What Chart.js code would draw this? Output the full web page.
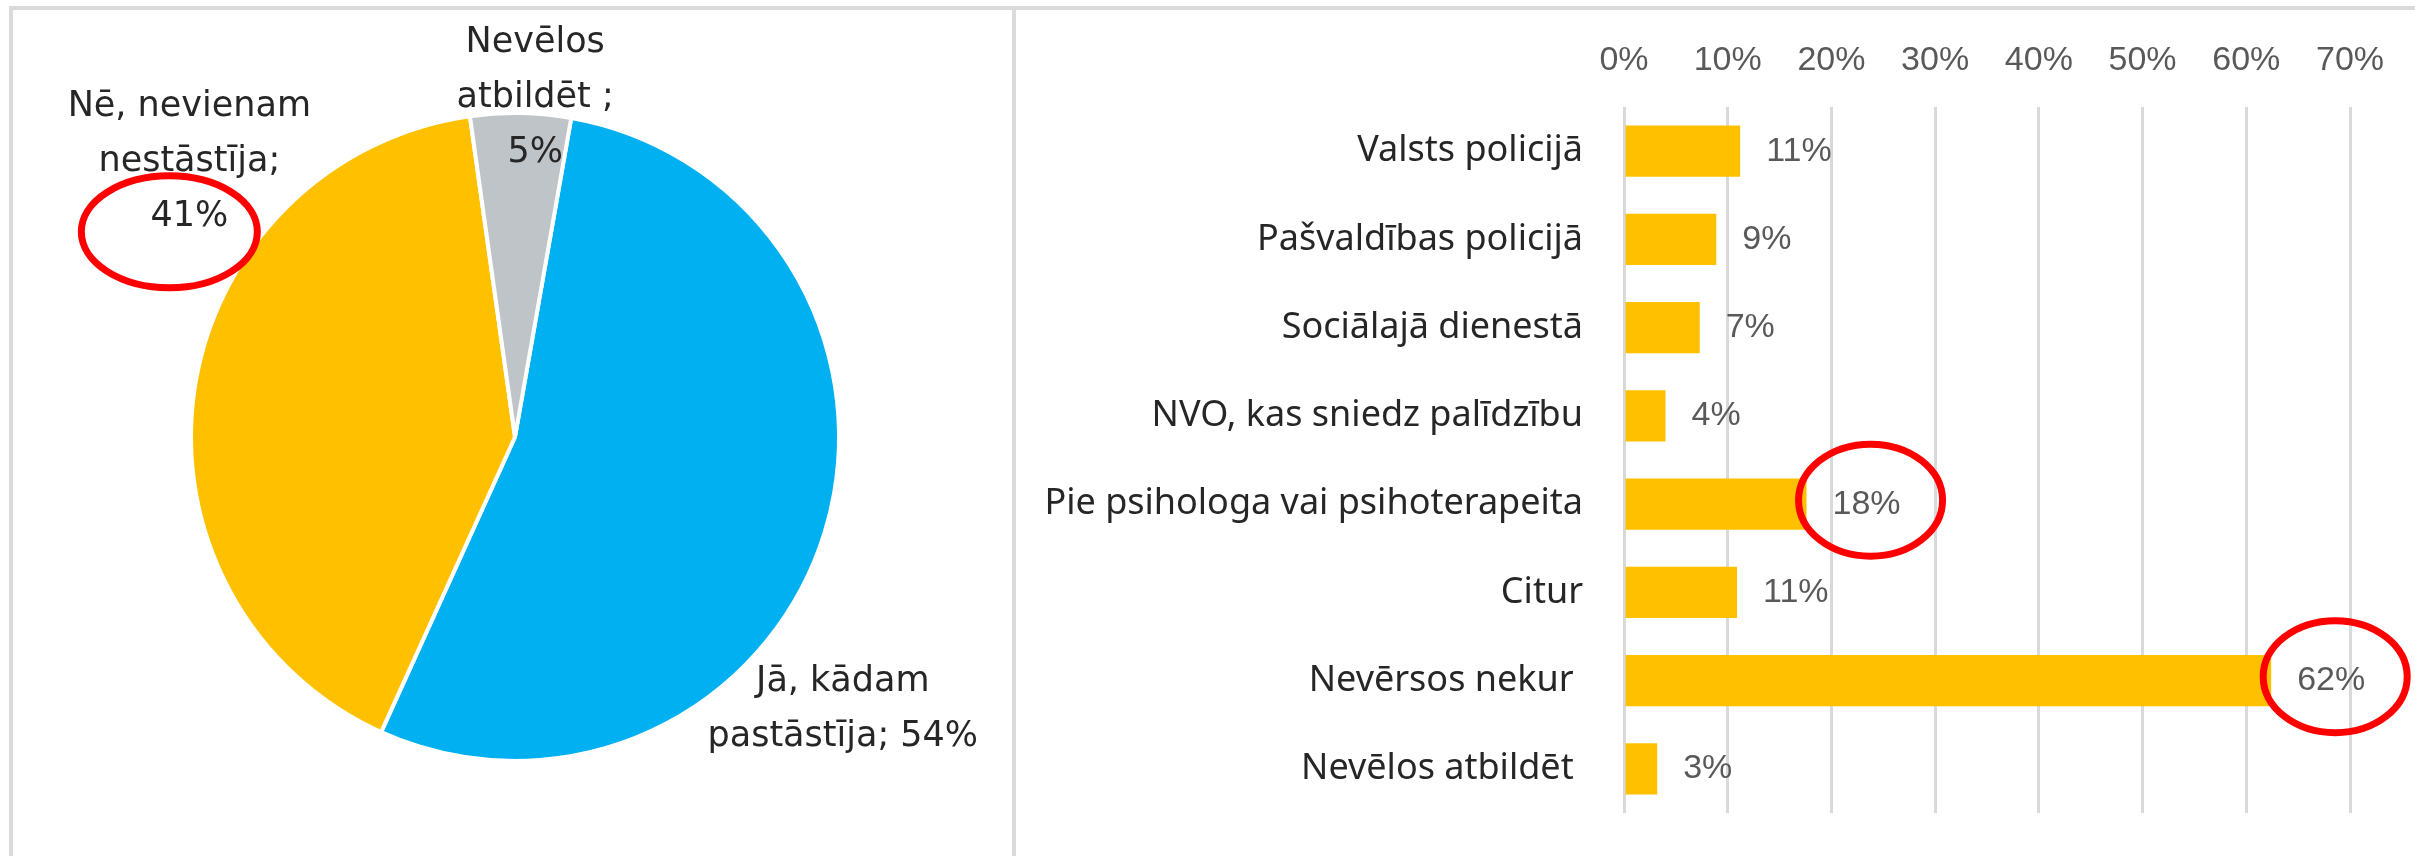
<!DOCTYPE html>
<html>
<head>
<meta charset="utf-8">
<script src="https://cdn.jsdelivr.net/npm/chart.js@4.4.1/dist/chart.umd.min.js"></script>
<style>
    html, body { margin: 0; padding: 0; background: #fff; }
    body { width: 2415px; height: 856px; position: relative; overflow: hidden; }
    .line { position: absolute; background: #dadada; }
    .box { position: absolute; }
</style>
</head>
<body>
<div class="line" style="left:9px; top:6px; width:2406px; height:4px;"></div>
<div class="line" style="left:9px; top:6px; width:4px; height:850px;"></div>
<div class="line" style="left:1012px; top:6px; width:4px; height:850px;"></div>

<div class="box" style="left:13px; top:10px;"><canvas id="pieChart" width="999" height="846"></canvas></div>
<div class="box" style="left:1016px; top:10px;"><canvas id="barChart" width="1399" height="846"></canvas></div>

<script>
// ============================================
// DATA
// ============================================

// pie: did they tell someone
const pieNames = [
    ['Jā, kādam', 'pastāstīja;'],
    ['Nē, nevienam', 'nestāstīja;'],
    ['Nevēlos', 'atbildēt ;'],
];
const pieValues = [54, 41, 5];
const pieColors = ['#00b0f0', '#ffc000', '#bfc4c8'];

// bars: where did they turn to
const barCategories = [
    'Valsts policijā',
    'Pašvaldības policijā',
    'Sociālajā dienestā',
    'NVO, kas sniedz palīdzību',
    'Pie psihologa vai psihoterapeita',
    'Citur',
    'Nevērsos nekur ',
    'Nevēlos atbildēt ',
];
const barValues = [11.2, 8.9, 7.3, 4.0, 17.6, 10.9, 62.4, 3.2];
const barTicks = [0, 10, 20, 30, 40, 50, 60, 70];

// which labels get the red circle
const pieHighlight = [1];
const barHighlight = [4, 6];

// ============================================
// LABEL PLACEMENT (pie labels sit where Excel put them)
// angle = degrees clockwise from 12 o'clock, dist = multiple of radius
// ============================================
const pieLabelSpots = [
    { angle: 129.7, dist: 1.315, valueOwnLine: false },
    { angle: 310.2, dist: 1.316, valueOwnLine: true },
    { angle: 3.4, dist: 1.048, valueOwnLine: true },
];

const RED = '#ff0000';

function drawEllipse(ctx, cx, cy, rx, ry) {
    ctx.save();
    ctx.strokeStyle = RED;
    ctx.lineWidth = 7;
    ctx.beginPath();
    ctx.ellipse(cx, cy, rx, ry, 0, 0, Math.PI * 2);
    ctx.stroke();
    ctx.restore();
}

const pieLabelPlugin = {
    id: 'pieLabels',
    afterDatasetsDraw(chart) {
        const ctx = chart.ctx;
        const meta = chart.getDatasetMeta(0);
        const lineH = 55;
        ctx.save();
        ctx.font = '35px "DejaVu Sans"';
        ctx.fillStyle = '#262626';
        ctx.textAlign = 'center';
        ctx.textBaseline = 'middle';
        meta.data.forEach((arc, i) => {
            const { x, y, outerRadius } = arc.getProps(['x', 'y', 'outerRadius'], true);
            const spot = pieLabelSpots[i];
            const a = spot.angle * Math.PI / 180;
            const cx = x + Math.sin(a) * spot.dist * outerRadius;
            const cy = y - Math.cos(a) * spot.dist * outerRadius;
            const pct = pieValues[i] + '%';
            let lines = pieNames[i].slice();
            if (spot.valueOwnLine) {
                lines.push(pct);
            } else {
                lines[lines.length - 1] += ' ' + pct;
            }
            const top = cy - (lines.length - 1) * lineH / 2;
            lines.forEach((t, k) => ctx.fillText(t, cx, top + k * lineH));
            if (pieHighlight.includes(i)) {
                const vy = top + (lines.length - 1) * lineH;
                drawEllipse(ctx, cx - 20, vy + 15, 88, 56);
            }
        });
        ctx.restore();
    },
};

const barLabelPlugin = {
    id: 'barLabels',
    afterDatasetsDraw(chart) {
        const ctx = chart.ctx;
        const meta = chart.getDatasetMeta(0);
        ctx.save();
        ctx.font = '34px "Liberation Sans"';
        ctx.fillStyle = '#595959';
        ctx.textAlign = 'left';
        ctx.textBaseline = 'middle';
        meta.data.forEach((bar, i) => {
            const txt = Math.round(barValues[i]) + '%';
            const lx = bar.x + 26;
            ctx.fillText(txt, lx, bar.y);
            if (barHighlight.includes(i)) {
                const w = ctx.measureText(txt).width;
                drawEllipse(ctx, lx + w / 2 + 4, bar.y - 4, 72, 56);
            }
        });
        ctx.restore();
    },
};

function initPie() {
    new Chart(document.getElementById('pieChart'), {
        type: 'pie',
        data: {
            labels: pieNames.map((n) => n.join(' ')),
            datasets: [
                {
                    data: pieValues,
                    backgroundColor: pieColors,
                    borderColor: '#fff',
                    borderWidth: 4,
                },
            ],
        },
        options: {
            responsive: false,
            animation: false,
            rotation: 10,
            layout: { padding: { left: 176, right: 171, top: 101, bottom: 93 } },
            plugins: {
                legend: { display: false },
                tooltip: { enabled: false },
            },
        },
        plugins: [pieLabelPlugin],
    });
}

function initBars() {
    new Chart(document.getElementById('barChart'), {
        type: 'bar',
        data: {
            labels: barCategories,
            datasets: [
                {
                    data: barValues,
                    backgroundColor: '#ffc000',
                    barPercentage: 0.58,
                    categoryPercentage: 1,
                },
            ],
        },
        options: {
            indexAxis: 'y',
            responsive: false,
            animation: false,
            layout: { padding: { left: 0, right: 65, top: 0, bottom: 43 } },
            plugins: {
                legend: { display: false },
                tooltip: { enabled: false },
            },
            scales: {
                x: {
                    position: 'top',
                    min: barTicks[0],
                    max: barTicks[barTicks.length - 1],
                    afterBuildTicks: (scale) => {
                        scale.ticks = barTicks.map((v) => ({ value: v }));
                    },
                    afterFit: (scale) => { scale.height = 97; },
                    ticks: {
                        callback: (value) => value + '%',
                        color: '#595959',
                        font: { family: 'Liberation Sans', size: 34 },
                        padding: 26,
                    },
                    grid: { color: '#d9d9d9', lineWidth: 3, drawTicks: false },
                    border: { display: false },
                },
                y: {
                    afterFit: (scale) => {
                        // fixed label column; the big tick padding must not eat the plot height
                        scale.width = 608;
                        scale.paddingTop = 0;
                        scale.paddingBottom = 0;
                    },
                    ticks: {
                        color: '#262626',
                        font: { family: 'Noto Sans', size: 36 },
                        padding: 41,
                    },
                    grid: { display: false, drawTicks: false },
                    border: { display: false },
                },
            },
        },
        plugins: [barLabelPlugin],
    });
}

document.addEventListener('DOMContentLoaded', () => {
    initPie();
    initBars();
});
</script>
</body>
</html>
